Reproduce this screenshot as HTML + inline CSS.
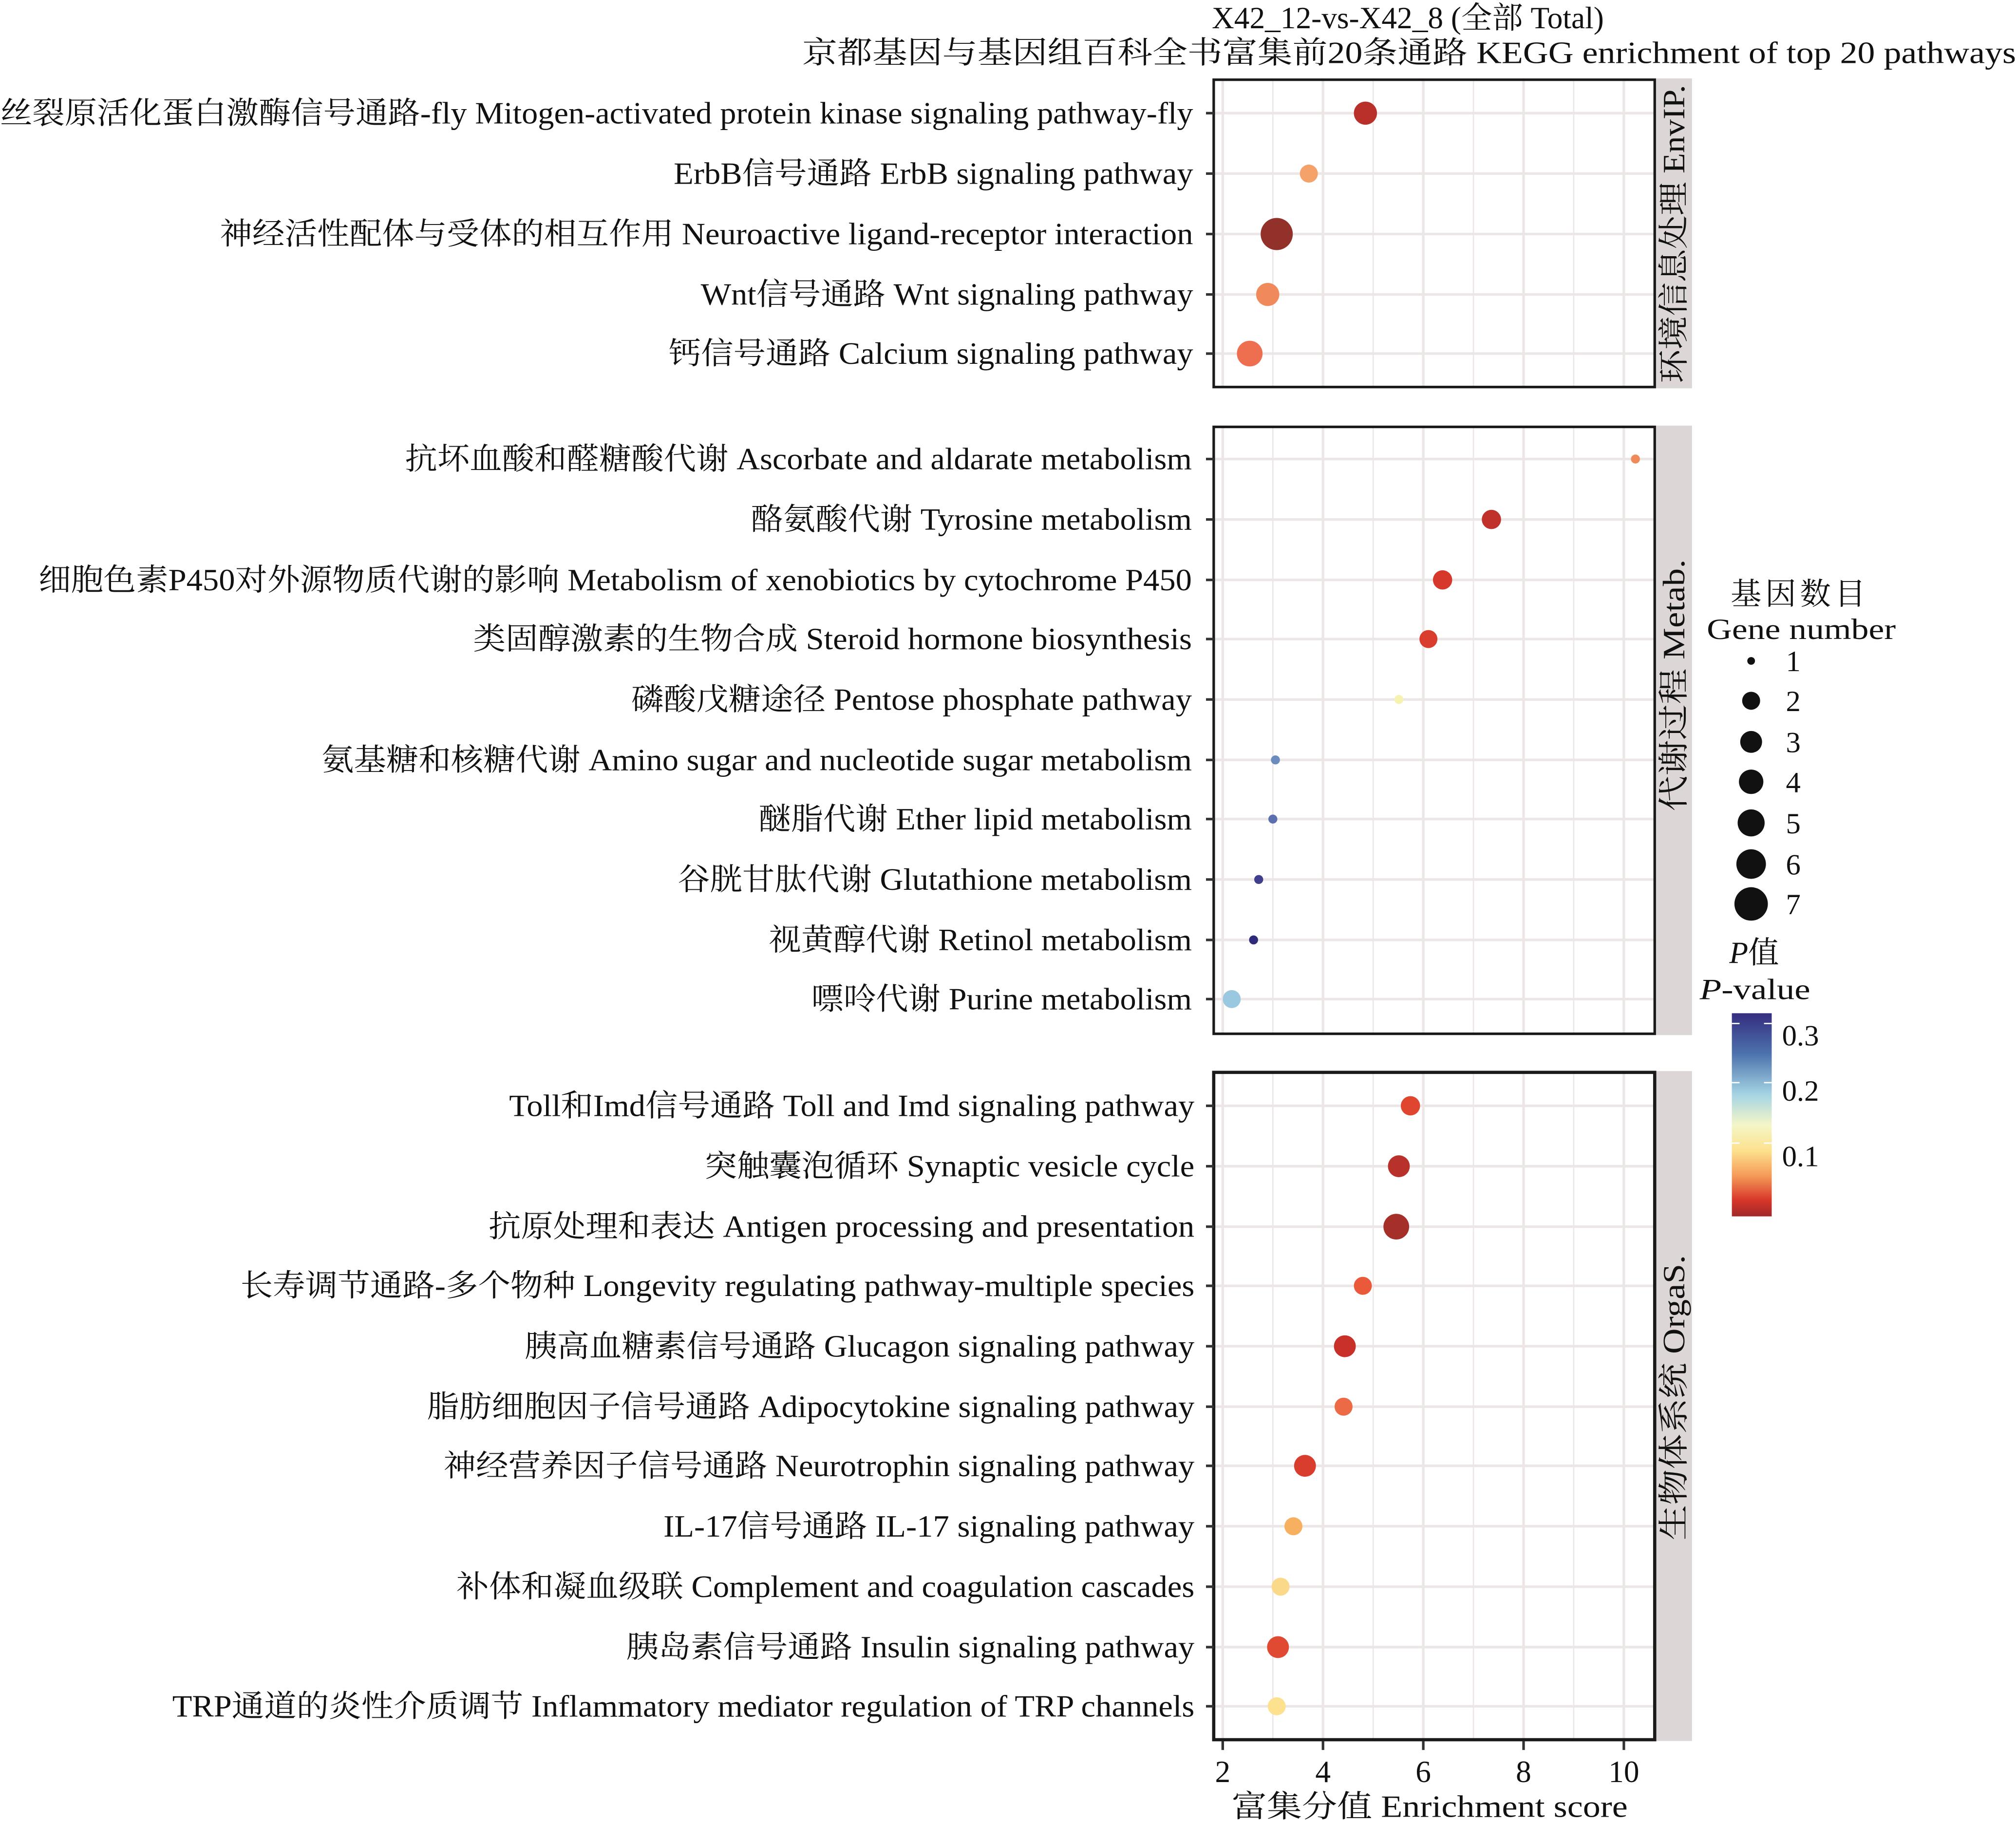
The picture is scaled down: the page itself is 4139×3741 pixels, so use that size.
<!DOCTYPE html>
<html><head><meta charset="utf-8"><style>
html,body{margin:0;padding:0;background:#fff;}
svg{display:block;}
text{font-family:"Liberation Serif","Noto Serif CJK SC",serif;fill:#111;}
</style></head><body>
<svg width="4139" height="3741" viewBox="0 0 1568 1417" preserveAspectRatio="none" xmlns="http://www.w3.org/2000/svg">
<defs>
<linearGradient id="cb" x1="0" y1="0" x2="0" y2="1">
<stop offset="0" stop-color="#352d80"/>
<stop offset="0.2" stop-color="#4d72ad"/>
<stop offset="0.4" stop-color="#a5d4e3"/>
<stop offset="0.55" stop-color="#f4f6c8"/>
<stop offset="0.68" stop-color="#fde08c"/>
<stop offset="0.8" stop-color="#f59a58"/>
<stop offset="0.92" stop-color="#d8372a"/>
<stop offset="1" stop-color="#a0282a"/>
</linearGradient>
</defs>

<text x="1095" y="22" font-size="24" text-anchor="middle">X42_12-vs-X42_8 (全部 Total)</text>
<text x="1096" y="49" font-size="24" text-anchor="middle" textLength="944" lengthAdjust="spacingAndGlyphs">京都基因与基因组百科全书富集前20条通路 KEGG enrichment of top 20 pathways</text>

<g id="panels">
<rect x="1288" y="61" width="28" height="241" fill="#ddd6d6"/>
<g stroke="#ece6e6">
<line x1="951" x2="951" y1="61" y2="302" stroke-width="2"/><line x1="990" x2="990" y1="61" y2="302" stroke-width="1"/><line x1="1029" x2="1029" y1="61" y2="302" stroke-width="2"/><line x1="1068" x2="1068" y1="61" y2="302" stroke-width="1"/><line x1="1107" x2="1107" y1="61" y2="302" stroke-width="2"/><line x1="1146" x2="1146" y1="61" y2="302" stroke-width="1"/><line x1="1185" x2="1185" y1="61" y2="302" stroke-width="2"/><line x1="1224" x2="1224" y1="61" y2="302" stroke-width="1"/><line x1="1263" x2="1263" y1="61" y2="302" stroke-width="2"/>
<line x1="944" x2="1288" y1="88" y2="88" stroke-width="2"/><line x1="944" x2="1288" y1="135" y2="135" stroke-width="2"/><line x1="944" x2="1288" y1="182" y2="182" stroke-width="2"/><line x1="944" x2="1288" y1="229" y2="229" stroke-width="2"/><line x1="944" x2="1288" y1="275" y2="275" stroke-width="2"/>
</g>
<rect x="944" y="62" width="343" height="239" fill="none" stroke="#1a1a1a" stroke-width="2"/>
<rect x="1288" y="331" width="28" height="474" fill="#ddd6d6"/>
<g stroke="#ece6e6">
<line x1="951" x2="951" y1="331" y2="805" stroke-width="2"/><line x1="990" x2="990" y1="331" y2="805" stroke-width="1"/><line x1="1029" x2="1029" y1="331" y2="805" stroke-width="2"/><line x1="1068" x2="1068" y1="331" y2="805" stroke-width="1"/><line x1="1107" x2="1107" y1="331" y2="805" stroke-width="2"/><line x1="1146" x2="1146" y1="331" y2="805" stroke-width="1"/><line x1="1185" x2="1185" y1="331" y2="805" stroke-width="2"/><line x1="1224" x2="1224" y1="331" y2="805" stroke-width="1"/><line x1="1263" x2="1263" y1="331" y2="805" stroke-width="2"/>
<line x1="944" x2="1288" y1="357" y2="357" stroke-width="2"/><line x1="944" x2="1288" y1="404" y2="404" stroke-width="2"/><line x1="944" x2="1288" y1="451" y2="451" stroke-width="2"/><line x1="944" x2="1288" y1="497" y2="497" stroke-width="2"/><line x1="944" x2="1288" y1="544" y2="544" stroke-width="2"/><line x1="944" x2="1288" y1="591" y2="591" stroke-width="2"/><line x1="944" x2="1288" y1="637" y2="637" stroke-width="2"/><line x1="944" x2="1288" y1="684" y2="684" stroke-width="2"/><line x1="944" x2="1288" y1="731" y2="731" stroke-width="2"/><line x1="944" x2="1288" y1="777" y2="777" stroke-width="2"/>
</g>
<rect x="944" y="332" width="343" height="472" fill="none" stroke="#1a1a1a" stroke-width="2"/>
<rect x="1288" y="833" width="28" height="521" fill="#ddd6d6"/>
<g stroke="#ece6e6">
<line x1="951" x2="951" y1="833" y2="1354" stroke-width="2"/><line x1="990" x2="990" y1="833" y2="1354" stroke-width="1"/><line x1="1029" x2="1029" y1="833" y2="1354" stroke-width="2"/><line x1="1068" x2="1068" y1="833" y2="1354" stroke-width="1"/><line x1="1107" x2="1107" y1="833" y2="1354" stroke-width="2"/><line x1="1146" x2="1146" y1="833" y2="1354" stroke-width="1"/><line x1="1185" x2="1185" y1="833" y2="1354" stroke-width="2"/><line x1="1224" x2="1224" y1="833" y2="1354" stroke-width="1"/><line x1="1263" x2="1263" y1="833" y2="1354" stroke-width="2"/>
<line x1="944" x2="1288" y1="860" y2="860" stroke-width="2"/><line x1="944" x2="1288" y1="907" y2="907" stroke-width="2"/><line x1="944" x2="1288" y1="954" y2="954" stroke-width="2"/><line x1="944" x2="1288" y1="1000" y2="1000" stroke-width="2"/><line x1="944" x2="1288" y1="1047" y2="1047" stroke-width="2"/><line x1="944" x2="1288" y1="1094" y2="1094" stroke-width="2"/><line x1="944" x2="1288" y1="1140" y2="1140" stroke-width="2"/><line x1="944" x2="1288" y1="1187" y2="1187" stroke-width="2"/><line x1="944" x2="1288" y1="1234" y2="1234" stroke-width="2"/><line x1="944" x2="1288" y1="1281" y2="1281" stroke-width="2"/><line x1="944" x2="1288" y1="1327" y2="1327" stroke-width="2"/>
</g>
<rect x="944" y="834" width="343" height="519" fill="none" stroke="#1a1a1a" stroke-width="2.5"/>
</g>

<g stroke="#333" stroke-width="2">
<line x1="938" x2="944" y1="88" y2="88"/><line x1="938" x2="944" y1="135" y2="135"/><line x1="938" x2="944" y1="182" y2="182"/><line x1="938" x2="944" y1="229" y2="229"/><line x1="938" x2="944" y1="275" y2="275"/>
<line x1="938" x2="944" y1="357" y2="357"/><line x1="938" x2="944" y1="404" y2="404"/><line x1="938" x2="944" y1="451" y2="451"/><line x1="938" x2="944" y1="497" y2="497"/><line x1="938" x2="944" y1="544" y2="544"/><line x1="938" x2="944" y1="591" y2="591"/><line x1="938" x2="944" y1="637" y2="637"/><line x1="938" x2="944" y1="684" y2="684"/><line x1="938" x2="944" y1="731" y2="731"/><line x1="938" x2="944" y1="777" y2="777"/>
<line x1="938" x2="944" y1="860" y2="860"/><line x1="938" x2="944" y1="907" y2="907"/><line x1="938" x2="944" y1="954" y2="954"/><line x1="938" x2="944" y1="1000" y2="1000"/><line x1="938" x2="944" y1="1047" y2="1047"/><line x1="938" x2="944" y1="1094" y2="1094"/><line x1="938" x2="944" y1="1140" y2="1140"/><line x1="938" x2="944" y1="1187" y2="1187"/><line x1="938" x2="944" y1="1234" y2="1234"/><line x1="938" x2="944" y1="1281" y2="1281"/><line x1="938" x2="944" y1="1327" y2="1327"/>
<line x1="951" x2="951" y1="1354" y2="1361"/><line x1="1029" x2="1029" y1="1354" y2="1361"/><line x1="1107" x2="1107" y1="1354" y2="1361"/><line x1="1185" x2="1185" y1="1354" y2="1361"/><line x1="1263" x2="1263" y1="1354" y2="1361"/>
</g>

<g font-size="24">
<text x="0" y="96" textLength="928" lengthAdjust="spacingAndGlyphs">丝裂原活化蛋白激酶信号通路-fly Mitogen-activated protein kinase signaling pathway-fly</text>
<text x="524" y="143" textLength="404" lengthAdjust="spacingAndGlyphs">ErbB信号通路 ErbB signaling pathway</text>
<text x="171" y="190" textLength="757" lengthAdjust="spacingAndGlyphs">神经活性配体与受体的相互作用 Neuroactive ligand-receptor interaction</text>
<text x="545" y="237" textLength="383" lengthAdjust="spacingAndGlyphs">Wnt信号通路 Wnt signaling pathway</text>
<text x="520" y="283" textLength="408" lengthAdjust="spacingAndGlyphs">钙信号通路 Calcium signaling pathway</text>

<text x="315" y="365" textLength="612" lengthAdjust="spacingAndGlyphs">抗坏血酸和醛糖酸代谢 Ascorbate and aldarate metabolism</text>
<text x="584" y="412" textLength="343" lengthAdjust="spacingAndGlyphs">酪氨酸代谢 Tyrosine metabolism</text>
<text x="30" y="459" textLength="897" lengthAdjust="spacingAndGlyphs">细胞色素P450对外源物质代谢的影响 Metabolism of xenobiotics by cytochrome P450</text>
<text x="368" y="505" textLength="559" lengthAdjust="spacingAndGlyphs">类固醇激素的生物合成 Steroid hormone biosynthesis</text>
<text x="491" y="552" textLength="436" lengthAdjust="spacingAndGlyphs">磷酸戊糖途径 Pentose phosphate pathway</text>
<text x="250" y="599" textLength="677" lengthAdjust="spacingAndGlyphs">氨基糖和核糖代谢 Amino sugar and nucleotide sugar metabolism</text>
<text x="590" y="645" textLength="337" lengthAdjust="spacingAndGlyphs">醚脂代谢 Ether lipid metabolism</text>
<text x="527" y="692" textLength="400" lengthAdjust="spacingAndGlyphs">谷胱甘肽代谢 Glutathione metabolism</text>
<text x="598" y="739" textLength="329" lengthAdjust="spacingAndGlyphs">视黄醇代谢 Retinol metabolism</text>
<text x="631" y="785" textLength="296" lengthAdjust="spacingAndGlyphs">嘌呤代谢 Purine metabolism</text>

<text x="396" y="868" textLength="533" lengthAdjust="spacingAndGlyphs">Toll和Imd信号通路 Toll and Imd signaling pathway</text>
<text x="548" y="915" textLength="381" lengthAdjust="spacingAndGlyphs">突触囊泡循环 Synaptic vesicle cycle</text>
<text x="380" y="962" textLength="549" lengthAdjust="spacingAndGlyphs">抗原处理和表达 Antigen processing and presentation</text>
<text x="187" y="1008" textLength="742" lengthAdjust="spacingAndGlyphs">长寿调节通路-多个物种 Longevity regulating pathway-multiple species</text>
<text x="408" y="1055" textLength="521" lengthAdjust="spacingAndGlyphs">胰高血糖素信号通路 Glucagon signaling pathway</text>
<text x="332" y="1102" textLength="597" lengthAdjust="spacingAndGlyphs">脂肪细胞因子信号通路 Adipocytokine signaling pathway</text>
<text x="345" y="1148" textLength="584" lengthAdjust="spacingAndGlyphs">神经营养因子信号通路 Neurotrophin signaling pathway</text>
<text x="516" y="1195" textLength="413" lengthAdjust="spacingAndGlyphs">IL-17信号通路 IL-17 signaling pathway</text>
<text x="355" y="1242" textLength="574" lengthAdjust="spacingAndGlyphs">补体和凝血级联 Complement and coagulation cascades</text>
<text x="487" y="1289" textLength="442" lengthAdjust="spacingAndGlyphs">胰岛素信号通路 Insulin signaling pathway</text>
<text x="134" y="1335" textLength="795" lengthAdjust="spacingAndGlyphs">TRP通道的炎性介质调节 Inflammatory mediator regulation of TRP channels</text>
</g>

<text font-size="24" transform="translate(1310,182) rotate(-90)" text-anchor="middle" textLength="232" lengthAdjust="spacingAndGlyphs">环境信息处理 EnvIP.</text>
<text font-size="24" transform="translate(1310,533) rotate(-90)" text-anchor="middle" textLength="196" lengthAdjust="spacingAndGlyphs">代谢过程 Metab.</text>
<text font-size="24" transform="translate(1310,1087) rotate(-90)" text-anchor="middle" textLength="222" lengthAdjust="spacingAndGlyphs">生物体系统 OrgaS.</text>

<g>
<circle cx="1062" cy="88" r="9" fill="#b83029"/>
<circle cx="1018" cy="135" r="7" fill="#f5a26a"/>
<circle cx="993" cy="182" r="12.5" fill="#92302a"/>
<circle cx="986" cy="229" r="9" fill="#f08a5a"/>
<circle cx="972" cy="275" r="10" fill="#ed6f4f"/>

<circle cx="1272" cy="357" r="3.5" fill="#f08a5a"/>
<circle cx="1160" cy="404" r="7.5" fill="#c0312b"/>
<circle cx="1122" cy="451" r="7.5" fill="#d6382c"/>
<circle cx="1111" cy="497" r="7" fill="#d93d2e"/>
<circle cx="1088" cy="544" r="3.5" fill="#f6f2b0"/>
<circle cx="992" cy="591" r="3.5" fill="#6b8dbd"/>
<circle cx="990" cy="637" r="3.5" fill="#5c6fae"/>
<circle cx="979" cy="684" r="3.5" fill="#3f3f8e"/>
<circle cx="975" cy="731" r="3.5" fill="#2f2b7a"/>
<circle cx="958" cy="777" r="7" fill="#9ac8e0"/>

<circle cx="1097" cy="860" r="7.5" fill="#e0452f"/>
<circle cx="1088" cy="907" r="8.5" fill="#b8312a"/>
<circle cx="1086" cy="954" r="10" fill="#a5302a"/>
<circle cx="1060" cy="1000" r="7" fill="#ea5a3a"/>
<circle cx="1046" cy="1047" r="8.5" fill="#c8302a"/>
<circle cx="1045" cy="1094" r="7" fill="#ec6a45"/>
<circle cx="1015" cy="1140" r="8.5" fill="#d93d2e"/>
<circle cx="1006" cy="1187" r="7" fill="#f7b060"/>
<circle cx="996" cy="1234" r="7" fill="#fbd98a"/>
<circle cx="994" cy="1281" r="8.5" fill="#e04a33"/>
<circle cx="993" cy="1327" r="7" fill="#fde18f"/>
</g>

<g font-size="24" text-anchor="middle">
<text x="951" y="1386">2</text><text x="1029" y="1386">4</text><text x="1107" y="1386">6</text><text x="1185" y="1386">8</text><text x="1263" y="1386">10</text>
</g>
<text x="1112" y="1413" font-size="24" text-anchor="middle" textLength="308" lengthAdjust="spacingAndGlyphs">富集分值 Enrichment score</text>

<text x="1400" y="470" font-size="24" text-anchor="middle" letter-spacing="3">基因数目</text>
<text x="1401" y="497" font-size="23" text-anchor="middle" textLength="147" lengthAdjust="spacingAndGlyphs">Gene number</text>
<g fill="#111">
<circle cx="1362" cy="514" r="3"/><circle cx="1362" cy="545" r="7"/><circle cx="1362" cy="577" r="8.5"/><circle cx="1362" cy="608" r="9.5"/><circle cx="1362" cy="640" r="10.5"/><circle cx="1362" cy="672" r="11.5"/><circle cx="1362" cy="703" r="13"/>
</g>
<g font-size="23">
<text x="1389" y="522">1</text><text x="1389" y="553">2</text><text x="1389" y="585">3</text><text x="1389" y="616">4</text><text x="1389" y="648">5</text><text x="1389" y="680">6</text><text x="1389" y="711">7</text>
</g>
<text x="1345" y="749" font-size="24"><tspan font-style="italic">P</tspan>值</text>
<text x="1322" y="777" font-size="23" textLength="86" lengthAdjust="spacingAndGlyphs"><tspan font-style="italic">P</tspan>-value</text>
<rect x="1347" y="788" width="31" height="158" fill="url(#cb)"/>
<g stroke="#fff" stroke-width="1">
<line x1="1347" x2="1353" y1="796" y2="796"/><line x1="1372" x2="1378" y1="796" y2="796"/>
<line x1="1347" x2="1353" y1="842" y2="842"/><line x1="1372" x2="1378" y1="842" y2="842"/>
<line x1="1347" x2="1353" y1="889" y2="889"/><line x1="1372" x2="1378" y1="889" y2="889"/>
</g>
<g font-size="23">
<text x="1386" y="813">0.3</text><text x="1386" y="856">0.2</text><text x="1386" y="907">0.1</text>
</g>
</svg>
</body></html>
